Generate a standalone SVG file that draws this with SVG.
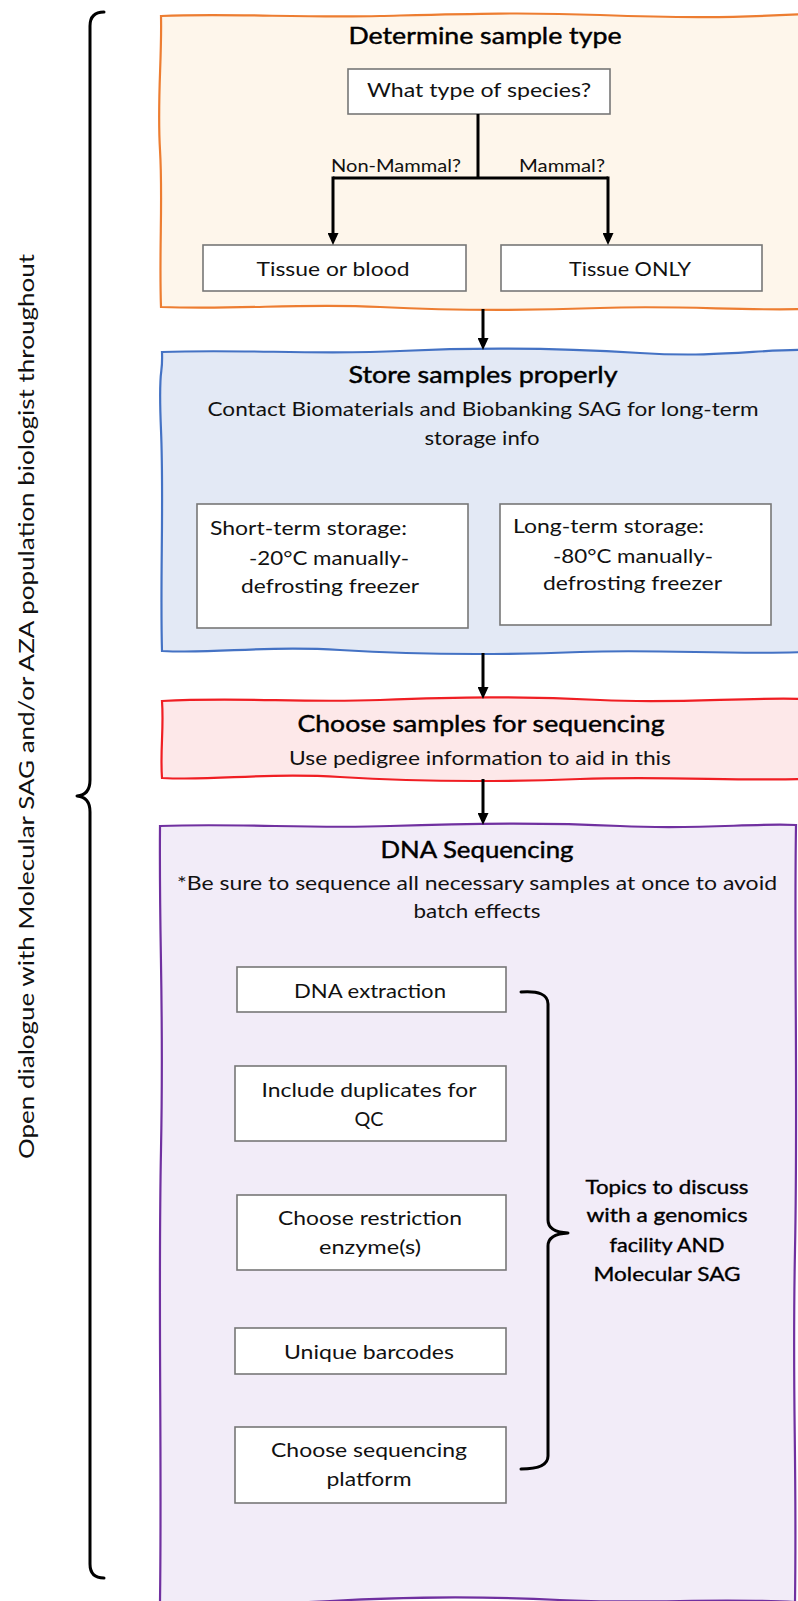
<svg xmlns="http://www.w3.org/2000/svg" width="798" height="1601" viewBox="0 0 798 1601">
<defs>
<style>
text{font-family:Lato,"Liberation Sans",sans-serif;fill:#111;}
.title{font-size:24px;font-weight:normal;text-anchor:middle;fill:#000;stroke:#000;stroke-width:0.45;}
.body{font-size:19px;text-anchor:middle;}
.lbl{font-size:18px;}
.bx{fill:#fff;stroke:#777;stroke-width:1.6;}
.topic{font-size:18.5px;font-weight:normal;text-anchor:middle;fill:#000;stroke:#000;stroke-width:0.35;}
.wire{fill:none;stroke:#000;stroke-width:3;}
.brace{fill:none;stroke:#000;stroke-width:3;stroke-linejoin:round;stroke-linecap:round;}
</style>
<marker id="ah" markerUnits="userSpaceOnUse" markerWidth="12" markerHeight="11" refX="8" refY="5.5" orient="auto">
<path d="M0,0 L12,5.5 L0,11 Z" fill="#000"/>
</marker>
</defs>
<rect width="798" height="1601" fill="#fff"/>

<g id="side-note">
<path class="brace" d="M104,12 Q90,12 90,26 L90,780 Q90,795 77,796 Q90,797 90,812 L90,1564 Q90,1578 104,1578"/>
<text class="lbl" transform="translate(34,706.5) rotate(-90)" text-anchor="middle" style="font-size:21px" textLength="905" lengthAdjust="spacingAndGlyphs">Open dialogue with Molecular SAG and/or AZA population biologist throughout</text>
</g>

<g id="determine-sample-type">
<path d="M161,16 C230,13 300,18 380,16 S520,12 600,15 S730,18 806,14 L806,309 C740,311 680,305 600,308 S460,311 380,307 S240,310 161,307 C159,250 163,200 160,150 S162,60 161,16 Z" fill="#FEF6EB" stroke="#ED7D31" stroke-width="2.2"/>
<text class="title" x="485" y="44" textLength="273" lengthAdjust="spacingAndGlyphs">Determine sample type</text>
</g>

<g id="species-question">
<rect class="bx" x="348" y="69" width="262" height="45"/>
<text class="body" x="479" y="97" textLength="224" lengthAdjust="spacingAndGlyphs">What type of species?</text>
</g>

<g id="tissue-or-blood">
<rect class="bx" x="203" y="245" width="263" height="46"/>
<text class="body" x="333" y="276" textLength="153" lengthAdjust="spacingAndGlyphs">Tissue or blood</text>
</g>

<g id="tissue-only">
<rect class="bx" x="501" y="245" width="261" height="46"/>
<text class="body" x="630" y="276" textLength="122" lengthAdjust="spacingAndGlyphs">Tissue ONLY</text>
</g>

<g id="store-samples">
<path d="M162,352 C240,349 320,355 400,351 S560,348 640,353 S760,349 806,350 L806,652 C730,655 660,649 580,652 S420,655 340,650 S220,654 162,651 C160,580 164,500 161,430 S163,380 162,352 Z" fill="#E3E9F5" stroke="#4472C4" stroke-width="2.2"/>
<text class="title" x="483" y="383" textLength="269" lengthAdjust="spacingAndGlyphs">Store samples properly</text>
<text class="body" x="483" y="416" textLength="551" lengthAdjust="spacingAndGlyphs">Contact Biomaterials and Biobanking SAG for long-term</text>
<text class="body" x="482" y="445" textLength="115" lengthAdjust="spacingAndGlyphs">storage info</text>
</g>

<g id="short-term">
<rect class="bx" x="197" y="504" width="271" height="124"/>
<text class="body" x="210" y="535" style="text-anchor:start" textLength="197" lengthAdjust="spacingAndGlyphs">Short-term storage:</text>
<text class="body" x="249" y="565" style="text-anchor:start" textLength="160" lengthAdjust="spacingAndGlyphs">-20°C manually-</text>
<text class="body" x="241" y="593" style="text-anchor:start" textLength="178" lengthAdjust="spacingAndGlyphs">defrosting freezer</text>
</g>

<g id="long-term">
<rect class="bx" x="500" y="504" width="271" height="121"/>
<text class="body" x="513" y="533" style="text-anchor:start" textLength="191" lengthAdjust="spacingAndGlyphs">Long-term storage:</text>
<text class="body" x="553" y="563" style="text-anchor:start" textLength="160" lengthAdjust="spacingAndGlyphs">-80°C manually-</text>
<text class="body" x="543" y="590" style="text-anchor:start" textLength="179" lengthAdjust="spacingAndGlyphs">defrosting freezer</text>
</g>

<g id="choose-samples">
<path d="M162,701 C240,697 300,703 380,700 S520,696 600,700 S740,697 806,699 L806,779 C740,781 660,776 580,779 S420,782 340,777 S220,781 162,778 C160,750 164,730 162,701 Z" fill="#FDE8E9" stroke="#F01E23" stroke-width="2.2"/>
<text class="title" x="481" y="732" textLength="367" lengthAdjust="spacingAndGlyphs">Choose samples for sequencing</text>
<text class="body" x="480" y="765" textLength="382" lengthAdjust="spacingAndGlyphs">Use pedigree information to aid in this</text>
</g>

<g id="dna-sequencing">
<path d="M160,826 C240,823 310,829 390,826 S540,822 620,826 S750,823 796,825 C794,950 798,1100 795,1250 S797,1450 795,1602 C720,1598 640,1604 560,1600 S400,1597 330,1601 S200,1604 160,1602 C162,1450 158,1300 161,1150 S159,950 160,826 Z" fill="#F2ECF8" stroke="#7030A0" stroke-width="2.2"/>
<text class="title" x="477" y="858" textLength="193" lengthAdjust="spacingAndGlyphs">DNA Sequencing</text>
<text class="body" x="477" y="890" textLength="600" lengthAdjust="spacingAndGlyphs">*Be sure to sequence all necessary samples at once to avoid</text>
<text class="body" x="477" y="918" textLength="127" lengthAdjust="spacingAndGlyphs">batch effects</text>
</g>

<g id="dna-extraction">
<rect class="bx" x="237" y="967" width="269" height="45"/>
<text class="body" x="370" y="998" textLength="152" lengthAdjust="spacingAndGlyphs">DNA extraction</text>
</g>

<g id="duplicates">
<rect class="bx" x="235" y="1066" width="271" height="75"/>
<text class="body" x="369" y="1097" textLength="215" lengthAdjust="spacingAndGlyphs">Include duplicates for</text>
<text class="body" x="369" y="1126" textLength="29" lengthAdjust="spacingAndGlyphs">QC</text>
</g>

<g id="restriction">
<rect class="bx" x="237" y="1195" width="269" height="75"/>
<text class="body" x="370" y="1225" textLength="184" lengthAdjust="spacingAndGlyphs">Choose restriction</text>
<text class="body" x="370" y="1254" textLength="102" lengthAdjust="spacingAndGlyphs">enzyme(s)</text>
</g>

<g id="barcodes">
<rect class="bx" x="235" y="1328" width="271" height="46"/>
<text class="body" x="369" y="1359" textLength="170" lengthAdjust="spacingAndGlyphs">Unique barcodes</text>
</g>

<g id="platform">
<rect class="bx" x="235" y="1427" width="271" height="76"/>
<text class="body" x="369" y="1457" textLength="196" lengthAdjust="spacingAndGlyphs">Choose sequencing</text>
<text class="body" x="369" y="1486" textLength="85" lengthAdjust="spacingAndGlyphs">platform</text>
</g>

<g id="topics">
<path class="brace" d="M521,992 Q548,990 548,1004 L548,1220 Q548,1232 568,1233 Q548,1234 548,1246 L548,1456 Q548,1469 521,1469"/>
<text class="topic" x="667" y="1194" textLength="163" lengthAdjust="spacingAndGlyphs">Topics to discuss</text>
<text class="topic" x="667" y="1222" textLength="161" lengthAdjust="spacingAndGlyphs">with a genomics</text>
<text class="topic" x="667" y="1252" textLength="115" lengthAdjust="spacingAndGlyphs">facility AND</text>
<text class="topic" x="667" y="1281" textLength="147" lengthAdjust="spacingAndGlyphs">Molecular SAG</text>
</g>

<g id="connectors">
<path class="wire" d="M478,114 L478,178"/>
<path class="wire" d="M333,178 L608,178"/>
<path class="wire" d="M333,176.5 L333,241" marker-end="url(#ah)"/>
<path class="wire" d="M608,176.5 L608,241" marker-end="url(#ah)"/>
<text class="lbl" x="461" y="172" text-anchor="end" textLength="130" lengthAdjust="spacingAndGlyphs">Non-Mammal?</text>
<text class="lbl" x="519" y="172" textLength="86" lengthAdjust="spacingAndGlyphs">Mammal?</text>
<path class="wire" d="M483,309 L483,346" marker-end="url(#ah)"/>
<path class="wire" d="M483,653 L483,695" marker-end="url(#ah)"/>
<path class="wire" d="M483,779 L483,821" marker-end="url(#ah)"/>
</g>
</svg>
